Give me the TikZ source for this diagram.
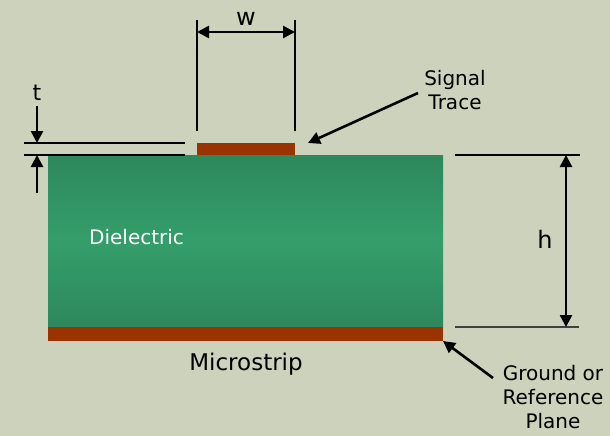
\documentclass[tikz,border=0pt]{standalone}
\usepackage{fontspec}
\setmainfont{DejaVu Sans}
\usetikzlibrary{arrows.meta}
\definecolor{bg}{RGB}{205,210,188}
\definecolor{copper}{RGB}{153,51,0}
\definecolor{dgreen}{RGB}{45,136,92}
\definecolor{lgreen}{RGB}{52,158,106}
\begin{document}
\begin{tikzpicture}[x=1pt,y=-1pt,
  lbl/.style={inner sep=0pt, align=center, font=\fontsize{20}{24}\selectfont},
  biglbl/.style={inner sep=0pt, font=\fontsize{24}{28}\selectfont},
  extline/.style={line width=1.3pt, black},
  arr/.style={line width=2.6pt, -{Triangle[length=12pt,width=12pt]}},
  darr/.style={line width=2.6pt, {Triangle[length=12pt,width=12pt]}-{Triangle[length=12pt,width=12pt]}},
  slab/.style={draw=none, inner sep=0pt, outer sep=0pt, anchor=north west},
  copperbox/.style={slab, fill=copper}]
\fill[bg] (0,0) rectangle (610,436);
\useasboundingbox (0,0) rectangle (610,436);
% dielectric
\node[slab, minimum width=395pt, minimum height=172pt, top color=dgreen, bottom color=dgreen, middle color=lgreen] (diel) at (48,155) {};
\node[copperbox, minimum width=395pt, minimum height=14pt] (gnd) at (48,327) {};
\node[copperbox, minimum width=98pt, minimum height=12pt] (trace) at (197,143) {};
% labels
\node[lbl, text=white, anchor=base west] (dlab) at (89,244) {Dielectric};
\node[inner sep=0pt, font=\fontsize{23}{28}\selectfont, anchor=base] (mlab) at (246,370) {Microstrip};
\node[lbl, anchor=base] (slab) at (455,109) {Signal\\Trace};
\node[lbl, anchor=base] (glab) at (553,428) {Ground or\\Reference\\Plane};
\node[biglbl, anchor=base] (wlab) at (246,26) {w};
\node[inner sep=0pt, font=\fontsize{22}{26}\selectfont, anchor=base] (tlab) at (37,100) {t};
\node[biglbl, anchor=base] (hlab) at (545,248) {h};
% w dimension
\coordinate (w1a) at (197,20); \coordinate (w1b) at (197,131);
\coordinate (w2a) at (295,20); \coordinate (w2b) at (295,131);
\draw[extline] (w1a) -- (w1b);
\draw[extline] (w2a) -- (w2b);
\coordinate (wa) at (197,32); \coordinate (wb) at (295,32);
\draw[darr] (wa) -- (wb);
% t dimension
\coordinate (t1a) at (24,143); \coordinate (t1b) at (185,143);
\coordinate (t2a) at (24,155); \coordinate (t2b) at (185,155);
\draw[extline] (t1a) -- (t1b);
\draw[extline] (t2a) -- (t2b);
\coordinate (ta0) at (37,106); \coordinate (ta1) at (37,143);
\coordinate (tb0) at (37,193); \coordinate (tb1) at (37,155);
\draw[arr] (ta0) -- (ta1);
\draw[arr] (tb0) -- (tb1);
% h dimension
\coordinate (h1a) at (455,155); \coordinate (h1b) at (580,155);
\coordinate (h2a) at (455,327); \coordinate (h2b) at (579,327);
\draw[extline] (h1a) -- (h1b);
\draw[extline, black!75] (h2a) -- (h2b);
\coordinate (ha) at (566,155); \coordinate (hb) at (566,327);
\draw[darr] (ha) -- (hb);
% pointers
\coordinate (sa) at (418,93); \coordinate (sb) at (308,143);
\draw[arr] (sa) -- (sb);
\coordinate (ga) at (493,378);
\draw[arr] (ga) -- (gnd.south east);
\end{tikzpicture}
\end{document}
